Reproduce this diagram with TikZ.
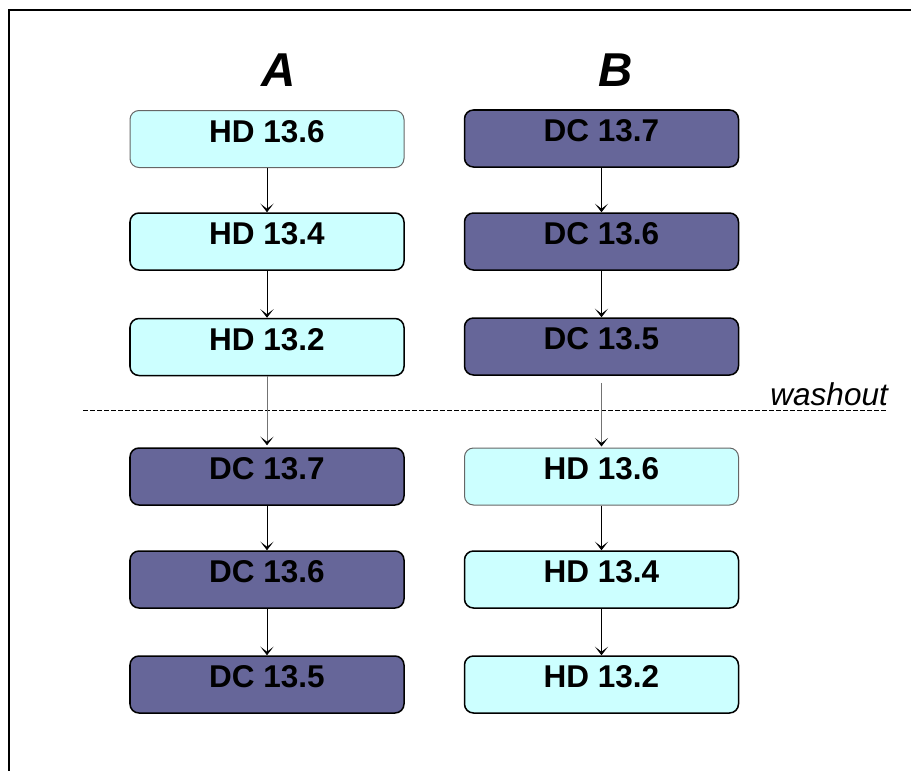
\documentclass[tikz,border=0pt]{standalone}
\usepackage{fontspec}
\setmainfont{Liberation Sans}
\usetikzlibrary{arrows.meta}
\definecolor{hdfill}{HTML}{CCFFFF}
\definecolor{dcfill}{HTML}{666699}
\begin{document}
\begin{tikzpicture}[x=1bp,y=-1bp,
  box/.style={draw=black,line width=1.5bp,rounded corners=9bp,minimum width=274bp,minimum height=57bp,inner sep=0pt,
    font=\fontsize{31.5bp}{36bp}\selectfont\bfseries,text height=22.5bp,text depth=16bp},
  hd/.style={box,fill=hdfill},
  hdlight/.style={box,fill=hdfill,draw=black!60,line width=1bp},
  dc/.style={box,fill=dcfill},
  flow/.style={draw=black,line width=0.8bp,-{Stealth[length=8.5bp,width=13bp,inset=5bp]}},
  wash/.style={draw=black!55,line width=0.8bp,-{Stealth[length=8.5bp,width=13bp,inset=5bp,color=black]}},
  title/.style={font=\fontsize{47.5bp}{50bp}\selectfont\bfseries\itshape,anchor=base,inner sep=0pt}]
\useasboundingbox (0,0) rectangle (911,771);
\draw[line width=2bp] (9,771) -- (9,10) -- (911,10);
\node[title] (tA) at (278.5,87) {A};
\node[title] (tB) at (616,87) {B};
% column A
\node[hdlight] (a1) at (267,139) {HD 13.6};
\node[hd] (a2) at (267,241.5) {HD 13.4};
\node[hd] (a3) at (267,347) {HD 13.2};
\node[dc] (a4) at (267,476.5) {DC 13.7};
\node[dc] (a5) at (267,579.5) {DC 13.6};
\node[dc] (a6) at (267,684.5) {DC 13.5};
% column B
\node[dc] (b1) at (601.5,138.5) {DC 13.7};
\node[dc] (b2) at (601.5,241.5) {DC 13.6};
\node[dc] (b3) at (601.5,346.5) {DC 13.5};
\node[hdlight] (b4) at (601.5,476.5) {HD 13.6};
\node[hd] (b5) at (601.5,579.5) {HD 13.4};
\node[hd] (b6) at (601.5,684.5) {HD 13.2};
% washout
\coordinate (w1) at (83,410.5);
\coordinate (w2) at (888,410.5);
\draw[line width=0.9bp,dash pattern=on 4.5bp off 2.5bp] (w1) -- (w2);
\node[font=\fontsize{31.5bp}{36bp}\selectfont\itshape,anchor=base east,inner sep=0pt] (wl) at (888,405) {washout};
% arrows
\draw[flow] (a1) -- (a2);
\draw[flow] (a2) -- (a3);
\draw[wash,shorten >=2bp] (a3) -- (a4);
\draw[flow] (a4) -- (a5);
\draw[flow] (a5) -- (a6);
\draw[flow] (b1) -- (b2);
\draw[flow] (b2) -- (b3);
\draw[wash,shorten <=7bp,shorten >=1bp] (b3) -- (b4);
\draw[flow] (b4) -- (b5);
\draw[flow] (b5) -- (b6);
\end{tikzpicture}
\end{document}
